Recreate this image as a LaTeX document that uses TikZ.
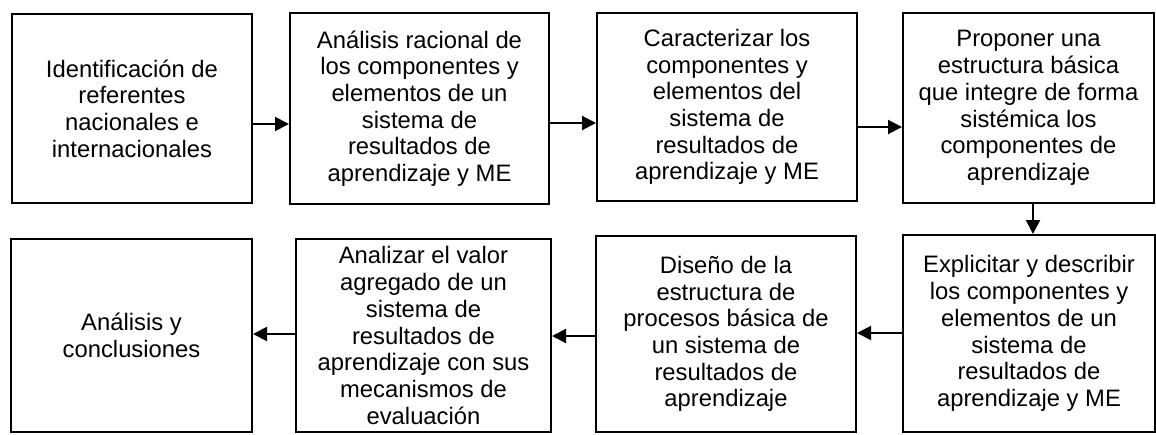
\documentclass[tikz,border=0pt]{standalone}
\usepackage{fontspec}
\setmainfont{Liberation Sans}
\usetikzlibrary{arrows.meta}
\begin{document}
\begin{tikzpicture}[x=1pt,y=-1pt,
  stepbox/.style={draw=black, line width=2pt, inner sep=0pt, align=center,
    font=\fontsize{23.8}{26.7}\selectfont},
  arr/.style={line width=2pt, -{Triangle[length=14pt,width=14pt]}}]
\useasboundingbox[fill=white] (0,0) rectangle (1156,434);
\node[stepbox, minimum width=240pt, minimum height=189pt] (b1) at (132,108.5)
  {Identificación de\\referentes\\nacionales e\\internacionales};
\node[stepbox, minimum width=259pt, minimum height=191pt] (b2) at (419.5,108.5)
  {Análisis racional de\\los componentes y\\elementos de un\\sistema de\\resultados de\\aprendizaje y ME};
\node[stepbox, minimum width=260pt, minimum height=188pt] (b3) at (727,107)
  {Caracterizar los\\componentes y\\elementos del\\sistema de\\resultados de\\aprendizaje y ME};
\node[stepbox, minimum width=251pt, minimum height=190pt] (b4) at (1028.5,108)
  {Proponer una\\estructura básica\\que integre de forma\\sistémica los\\componentes de\\aprendizaje};
\node[stepbox, minimum width=241pt, minimum height=193pt] (b5) at (131.5,335.5)
  {Análisis y\\conclusiones};
\node[stepbox, minimum width=255pt, minimum height=193pt] (b6) at (423.5,335.5)
  {Analizar el valor\\agregado de un\\sistema de\\resultados de\\aprendizaje con sus\\mecanismos de\\evaluación};
\node[stepbox, minimum width=260pt, minimum height=196pt] (b7) at (726,334)
  {Diseño de la\\estructura de\\procesos básica de\\un sistema de\\resultados de\\aprendizaje};
\node[stepbox, minimum width=252pt, minimum height=197pt] (b8) at (1029,333.5)
  {Explicitar y describir\\los componentes y\\elementos de un\\sistema de\\resultados de\\aprendizaje y ME};
\draw[arr] ([yshift=-15.5pt]b1.east) -- ([yshift=-15.5pt]b1.east -| b2.west);
\draw[arr] ([yshift=-14.5pt]b2.east) -- ([yshift=-14.5pt]b2.east -| b3.west);
\draw[arr] ([yshift=-20pt]b3.east) -- ([yshift=-20pt]b3.east -| b4.west);
\draw[arr] ([xshift=4.5pt]b4.south) -- ([xshift=4.5pt]b4.south |- b8.north);
\draw[arr] ([yshift=0.5pt]b8.west) -- ([yshift=0.5pt]b8.west -| b7.east);
\draw[arr] ([yshift=-2pt]b7.west) -- ([yshift=-2pt]b7.west -| b6.east);
\draw[arr] ([yshift=1.5pt]b6.west) -- ([yshift=1.5pt]b6.west -| b5.east);
\end{tikzpicture}
\end{document}
